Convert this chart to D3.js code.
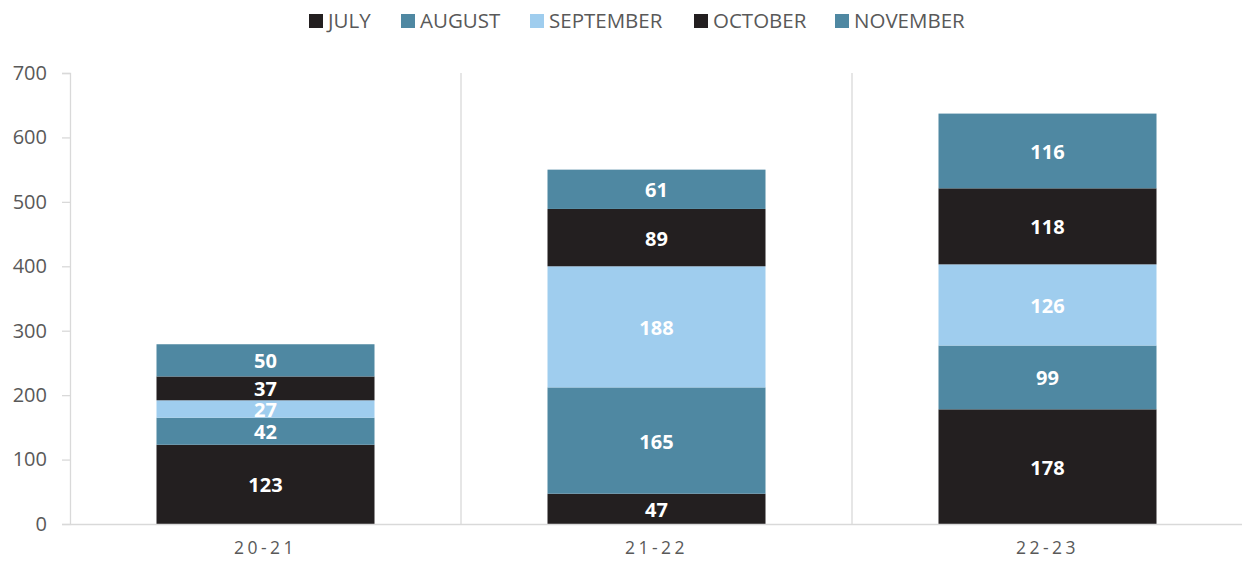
<!DOCTYPE html>
<html lang="en">
<head>
<meta charset="UTF-8">
<title>Monthly totals</title>
<script src="https://d3js.org/d3.v7.min.js"></script>
<style>
body { margin: 0; background: #fff; }
text { font-family: 'Open Sans', 'Liberation Sans', sans-serif; }
</style>
</head>
<body>
<svg class="container"></svg>
<script>
// data
const seasons = ['20-21', '21-22', '22-23'];
const months = ['JULY', 'AUGUST', 'SEPTEMBER', 'OCTOBER', 'NOVEMBER'];
const july      = [123, 47, 178];
const august    = [42, 165, 99];
const september = [27, 188, 126];
const october   = [37, 89, 118];
const november  = [50, 61, 116];
const yTicks = [0, 100, 200, 300, 400, 500, 600, 700];
const monthColors = ['#231f20', '#4f88a2', '#9fcdee', '#231f20', '#4f88a2'];

const width = 1242, height = 564;
const margin = {top: 73, right: 0, bottom: 40, left: 70};

const svg = d3.select('svg.container')
    .attr('width', width)
    .attr('height', height);

// rows for d3.stack
const series = [july, august, september, october, november];
const rows = seasons.map((s, i) => {
    const r = {season: s};
    months.forEach((m, j) => r[m] = series[j][i]);
    return r;
});
const stacked = d3.stack().keys(months)(rows);

const x = d3.scaleBand()
    .domain(seasons)
    .range([margin.left, width - margin.right + 1])
    .paddingInner(0)
    .paddingOuter(0);
const y = d3.scaleLinear()
    .domain([0, 700])
    .range([height - margin.bottom, margin.top]);

// category separators
svg.append('g')
    .selectAll('line')
    .data(seasons.slice(1))
    .join('line')
    .attr('x1', d => x(d)).attr('x2', d => x(d))
    .attr('y1', y(700)).attr('y2', y(0))
    .attr('stroke', '#d9d9d9')
    .attr('stroke-width', 1.3);

// y axis
const yAxis = svg.append('g')
    .attr('transform', `translate(${margin.left},0)`)
    .call(d3.axisLeft(y).tickValues(yTicks).tickSize(8).tickPadding(8));
yAxis.select('.domain').attr('stroke', '#d9d9d9').attr('stroke-width', 1.3);
yAxis.selectAll('.tick line').attr('stroke', '#d9d9d9').attr('stroke-width', 1.3);
yAxis.selectAll('.tick text')
    .attr('fill', '#595959')
    .style('font-size', '20px')
    .attr('x', -23);

// bars
const barW = 218;
const layer = svg.append('g')
    .selectAll('g')
    .data(stacked)
    .join('g')
    .attr('fill', (d, i) => monthColors[i]);

layer.selectAll('rect')
    .data(d => d)
    .join('rect')
    .attr('x', d => x(d.data.season) + x.bandwidth() / 2 - barW / 2)
    .attr('width', barW)
    .attr('y', d => y(d[1]))
    .attr('height', d => y(d[0]) - y(d[1]));

// value labels
layer.selectAll('text')
    .data(d => d)
    .join('text')
    .attr('x', d => x(d.data.season) + x.bandwidth() / 2)
    .attr('y', d => (y(d[0]) + y(d[1])) / 2)
    .attr('dy', '0.4em')
    .attr('text-anchor', 'middle')
    .attr('fill', '#fff')
    .style('font-size', '20px')
    .style('font-weight', 'bold')
    .text(d => d[1] - d[0]);

// x axis
const xAxis = svg.append('g')
    .attr('transform', `translate(0,${y(0)})`)
    .call(d3.axisBottom(x).tickSize(0).tickPadding(18));
xAxis.select('.domain').attr('stroke', '#d9d9d9').attr('stroke-width', 1.5);
xAxis.selectAll('.tick text')
    .attr('fill', '#595959')
    .style('font-size', '17.5px')
    .style('letter-spacing', '3.5px');

// legend
const legendX = [309, 401, 530, 694, 835];
const legend = svg.append('g')
    .selectAll('g')
    .data(months)
    .join('g')
    .attr('transform', (d, i) => `translate(${legendX[i]},21)`);
legend.append('rect')
    .attr('x', 0).attr('y', -7)
    .attr('width', 14).attr('height', 14)
    .attr('fill', (d, i) => monthColors[i]);
legend.append('text')
    .attr('x', 19)
    .attr('dy', '0.36em')
    .attr('fill', '#595959')
    .style('font-size', '20.5px')
    .text(d => d);
</script>
</body>
</html>
